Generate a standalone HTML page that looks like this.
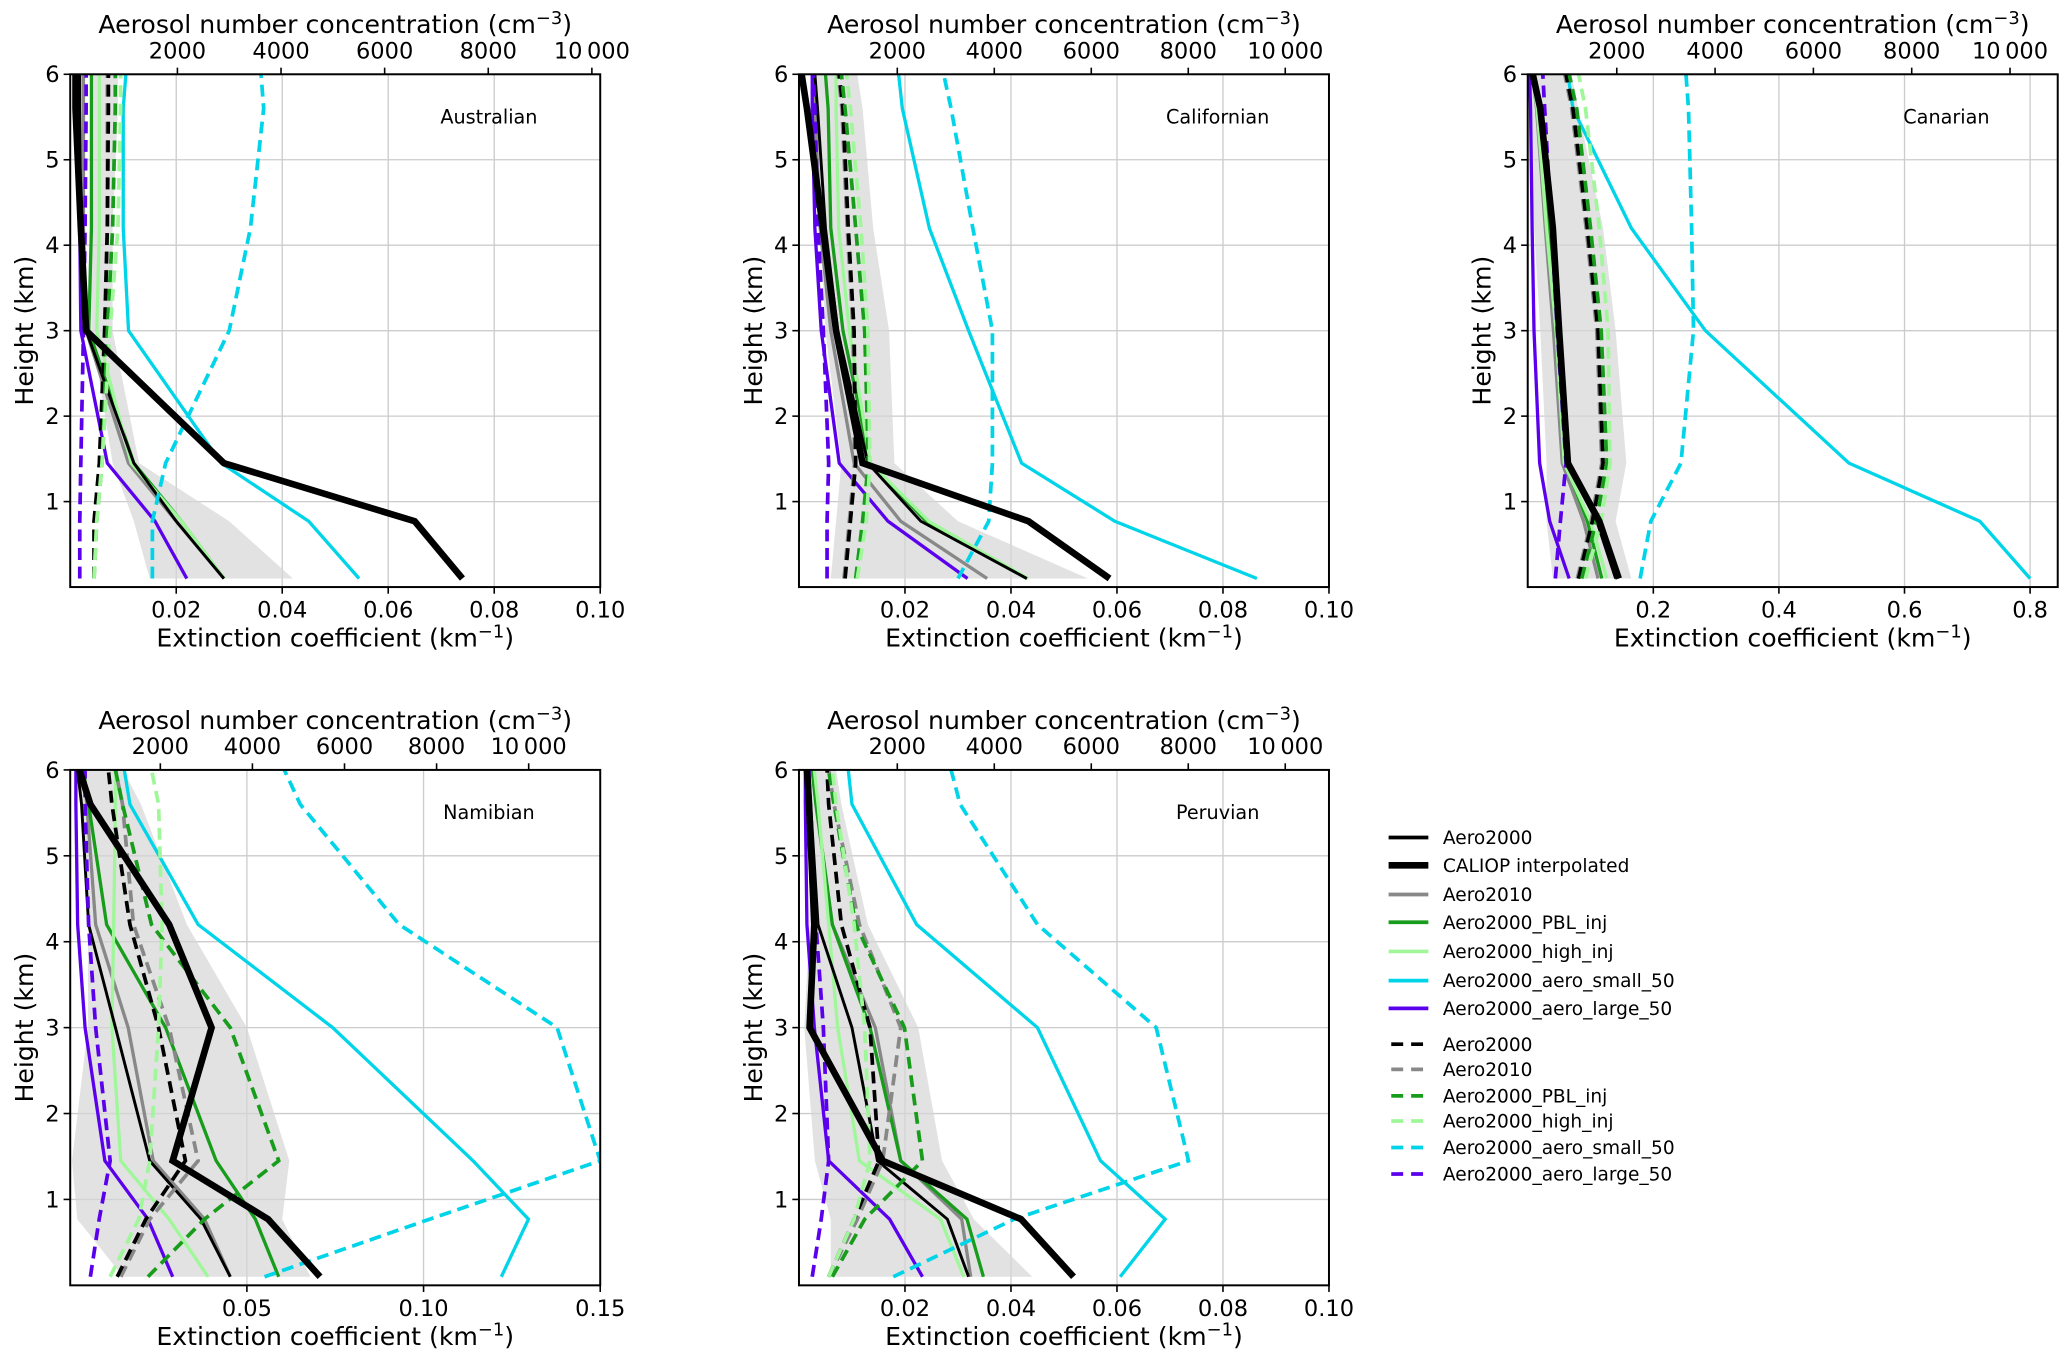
<!DOCTYPE html>
<html><head><meta charset="utf-8"><style>
html,body{margin:0;padding:0;background:#fff;}
svg{display:block;font-family:"DejaVu Sans","Liberation Sans",sans-serif;}
</style></head><body>
<svg id="fig" xmlns="http://www.w3.org/2000/svg" width="2067" height="1353" viewBox="0 0 1560 1021"></svg>
<script>
const heights = [0.1, 0.77, 1.45, 3, 4.2, 5.6, 6];
const yTicks = [1, 2, 3, 4, 5, 6];
const topTicks = [2000, 4000, 6000, 8000, 10000];
const topTickLabels = ["2000", "4000", "6000", "8000", "10\u2009000"];
const panelNames = ["Australian", "Californian", "Canarian", "Namibian", "Peruvian"];
const xTicksA = [0.02, 0.04, 0.06, 0.08, 0.10];
const xTickLabelsA = ["0.02", "0.04", "0.06", "0.08", "0.10"];
const xTicksC = [0.2, 0.4, 0.6, 0.8];
const xTickLabelsC = ["0.2", "0.4", "0.6", "0.8"];
const xTicksN = [0.05, 0.10, 0.15];
const xTickLabelsN = ["0.05", "0.10", "0.15"];

// Australian
const aus_a2000 = [0.029, 0.02, 0.012, 0.003, 0.002, 0.0018, 0.0018];
const aus_caliop = [0.074, 0.065, 0.029, 0.003, 0.002, 0.001, 0.001];
const aus_a2010 = [0.029, 0.02, 0.011, 0.003, 0.0025, 0.0025, 0.0025];
const aus_pbl = [0.029, 0.021, 0.012, 0.0035, 0.004, 0.004, 0.004];
const aus_high = [0.029, 0.021, 0.0115, 0.005, 0.0055, 0.0055, 0.0055];
const aus_small = [0.0545, 0.045, 0.0285, 0.011, 0.010, 0.010, 0.0105];
const aus_large = [0.022, 0.016, 0.007, 0.002, 0.0018, 0.0012, 0.001];
const aus_d2000 = [0.0045, 0.0045, 0.0055, 0.0065, 0.007, 0.0072, 0.0072];
const aus_d2010 = [0.0045, 0.0045, 0.0055, 0.0065, 0.007, 0.007, 0.007];
const aus_dpbl = [0.0045, 0.005, 0.006, 0.007, 0.008, 0.0085, 0.0085];
const aus_dhigh = [0.0045, 0.005, 0.006, 0.0075, 0.009, 0.0095, 0.0095];
const aus_dsmall = [0.0155, 0.0155, 0.018, 0.030, 0.034, 0.0365, 0.036];
const aus_dlarge = [0.0018, 0.0018, 0.002, 0.0025, 0.0028, 0.003, 0.003];
const aus_bandLo = [0.015, 0.012, 0.008, 0.004, 0.004, 0.004, 0.004];
const aus_bandHi = [0.042, 0.03, 0.013, 0.008, 0.008, 0.009, 0.009];

// Californian
const cal_a2000 = [0.043, 0.023, 0.013, 0.0073, 0.005, 0.0035, 0.003];
const cal_caliop = [0.0586, 0.0433, 0.012, 0.007, 0.0045, 0.0015, 0.0005];
const cal_a2010 = [0.0355, 0.0192, 0.0104, 0.006, 0.004, 0.003, 0.003];
const cal_pbl = [0.043, 0.024, 0.0135, 0.0083, 0.006, 0.0055, 0.005];
const cal_high = [0.0432, 0.0245, 0.0135, 0.0095, 0.0075, 0.007, 0.007];
const cal_small = [0.0864, 0.0596, 0.042, 0.032, 0.0246, 0.0195, 0.0188];
const cal_large = [0.0318, 0.0168, 0.0076, 0.0042, 0.003, 0.0025, 0.0025];
const cal_d2000 = [0.0087, 0.0097, 0.0107, 0.0104, 0.0093, 0.0083, 0.0076];
const cal_d2010 = [0.0085, 0.0095, 0.0105, 0.0102, 0.0091, 0.0081, 0.0074];
const cal_dpbl = [0.0107, 0.012, 0.0131, 0.0124, 0.0107, 0.0087, 0.008];
const cal_dhigh = [0.011, 0.0127, 0.0134, 0.013, 0.0117, 0.0097, 0.009];
const cal_dsmall = [0.030, 0.0358, 0.0365, 0.0365, 0.0328, 0.0287, 0.0273];
const cal_dlarge = [0.0053, 0.0053, 0.0056, 0.0046, 0.0036, 0.003, 0.0027];
const cal_bandLo = [0.006, 0.007, 0.008, 0.005, 0.004, 0.003, 0.003];
const cal_bandHi = [0.0545, 0.03, 0.018, 0.017, 0.014, 0.012, 0.011];

// Canarian
const can_a2000 = [0.14, 0.11, 0.062, 0.05, 0.038, 0.019, 0.008];
const can_caliop = [0.145, 0.114, 0.064, 0.050, 0.040, 0.02, 0.008];
const can_a2010 = [0.112, 0.089, 0.055, 0.041, 0.028, 0.014, 0.008];
const can_pbl = [0.118, 0.095, 0.06, 0.045, 0.032, 0.016, 0.008];
const can_high = [0.126, 0.1, 0.058, 0.045, 0.03, 0.015, 0.008];
const can_small = [0.8, 0.72, 0.5115, 0.283, 0.165, 0.072, 0.064];
const can_large = [0.066, 0.035, 0.019, 0.010, 0.007, 0.0045, 0.003];
const can_d2000 = [0.081, 0.103, 0.12, 0.112, 0.095, 0.072, 0.061];
const can_d2010 = [0.079, 0.101, 0.118, 0.11, 0.093, 0.07, 0.059];
const can_dpbl = [0.086, 0.109, 0.126, 0.117, 0.1, 0.078, 0.066];
const can_dhigh = [0.092, 0.117, 0.131, 0.128, 0.114, 0.092, 0.081];
const can_dsmall = [0.179, 0.196, 0.244, 0.264, 0.261, 0.256, 0.252];
const can_dlarge = [0.044, 0.052, 0.061, 0.047, 0.038, 0.027, 0.024];
const can_bandLo = [0.04, 0.03, 0.03, 0.02, 0.01, 0.005, 0.005];
const can_bandHi = [0.165, 0.14, 0.157, 0.14, 0.12, 0.08, 0.07];

// Namibian
const nam_a2000 = [0.0453, 0.037, 0.0225, 0.0128, 0.0052, 0.0032, 0.0021];
const nam_caliop = [0.0707, 0.056, 0.029, 0.040, 0.028, 0.0057, 0.0026];
const nam_a2010 = [0.0453, 0.038, 0.0235, 0.0164, 0.0072, 0.0047, 0.0037];
const nam_pbl = [0.059, 0.0524, 0.0413, 0.027, 0.0103, 0.0052, 0.0037];
const nam_high = [0.039, 0.028, 0.0143, 0.0118, 0.0123, 0.0128, 0.0128];
const nam_small = [0.122, 0.1297, 0.114, 0.0743, 0.0362, 0.0169, 0.0153];
const nam_large = [0.029, 0.022, 0.0098, 0.0042, 0.0021, 0.0016, 0.0016];
const nam_d2000 = [0.0133, 0.0214, 0.0326, 0.025, 0.0169, 0.0118, 0.0108];
const nam_d2010 = [0.0143, 0.0225, 0.0362, 0.028, 0.0179, 0.0148, 0.0128];
const nam_dpbl = [0.022, 0.038, 0.059, 0.0453, 0.023, 0.0148, 0.0128];
const nam_dhigh = [0.0113, 0.0194, 0.0225, 0.025, 0.026, 0.025, 0.023];
const nam_dsmall = [0.055, 0.1017, 0.15, 0.1378, 0.0931, 0.0651, 0.0606];
const nam_dlarge = [0.0057, 0.0082, 0.0113, 0.0072, 0.0052, 0.0042, 0.0042];
const nam_bandLo = [0.015, 0.002, 0.0005, 0.005, 0.005, 0.003, 0.003];
const nam_bandHi = [0.068, 0.06, 0.062, 0.05, 0.033, 0.02, 0.015];

// Peruvian
const per_a2000 = [0.032, 0.028, 0.0148, 0.010, 0.0036, 0.0022, 0.0019];
const per_caliop = [0.0518, 0.0419, 0.0158, 0.002, 0.0029, 0.0019, 0.0015];
const per_a2010 = [0.0324, 0.0307, 0.0192, 0.0144, 0.0063, 0.0032, 0.0025];
const per_pbl = [0.0348, 0.0317, 0.0192, 0.0134, 0.0063, 0.0032, 0.0025];
const per_high = [0.0311, 0.0267, 0.0114, 0.0073, 0.0056, 0.0036, 0.0029];
const per_small = [0.0606, 0.0691, 0.0569, 0.045, 0.0222, 0.010, 0.0093];
const per_large = [0.0233, 0.0171, 0.0056, 0.0029, 0.0015, 0.0012, 0.0012];
const per_d2000 = [0.0056, 0.0104, 0.0151, 0.0134, 0.008, 0.0056, 0.0053];
const per_d2010 = [0.0056, 0.011, 0.0158, 0.0192, 0.0114, 0.0066, 0.0056];
const per_dpbl = [0.0063, 0.0124, 0.0233, 0.0199, 0.0107, 0.0066, 0.0056];
const per_dhigh = [0.0056, 0.0104, 0.0134, 0.0124, 0.0104, 0.007, 0.0063];
const per_dsmall = [0.0178, 0.0406, 0.0735, 0.0674, 0.045, 0.0304, 0.0287];
const per_dlarge = [0.0025, 0.0042, 0.0056, 0.0046, 0.0032, 0.0019, 0.0019];
const per_bandLo = [0.006, 0.006, 0.003, 0.001, 0.002, 0.002, 0.002];
const per_bandHi = [0.044, 0.033, 0.027, 0.0225, 0.013, 0.008, 0.007];

const NS = "http://www.w3.org/2000/svg";
const svg = document.getElementById("fig");
function mk(tag, attrs, parent) {
  const e = document.createElementNS(NS, tag);
  for (const k in attrs) e.setAttribute(k, attrs[k]);
  (parent || svg).appendChild(e);
  return e;
}
const styles = {
  a2000: {c: "#000000", w: 2.2, d: null, label: "Aero2000"},
  caliop: {c: "#000000", w: 5, d: null, label: "CALIOP interpolated"},
  a2010: {c: "#888888", w: 2.5, d: null, label: "Aero2010"},
  pbl: {c: "#179c1b", w: 2.5, d: null, label: "Aero2000_PBL_inj"},
  high: {c: "#a0f79a", w: 2.5, d: null, label: "Aero2000_high_inj"},
  small: {c: "#00d4e8", w: 2.5, d: null, label: "Aero2000_aero_small_50"},
  large: {c: "#5a00ec", w: 2.5, d: null, label: "Aero2000_aero_large_50"},
  d2000: {c: "#000000", w: 2.8, d: "9 5", label: "Aero2000"},
  d2010: {c: "#888888", w: 2.8, d: "9 5", label: "Aero2010"},
  dpbl: {c: "#179c1b", w: 2.8, d: "9 5", label: "Aero2000_PBL_inj"},
  dhigh: {c: "#a0f79a", w: 2.8, d: "9 5", label: "Aero2000_high_inj"},
  dsmall: {c: "#00d4e8", w: 2.8, d: "9 5", label: "Aero2000_aero_small_50"},
  dlarge: {c: "#5a00ec", w: 2.8, d: "9 5", label: "Aero2000_aero_large_50"}
};
const panels = [
  {name: panelNames[0], L: 53, R: 453, T: 56, B: 443, xmax: 0.10, xt: xTicksA, xtl: xTickLabelsA, t0: 55.7, tk: 39.1,
   s: {a2000: aus_a2000, caliop: aus_caliop, a2010: aus_a2010, pbl: aus_pbl, high: aus_high, small: aus_small, large: aus_large, d2000: aus_d2000, d2010: aus_d2010, dpbl: aus_dpbl, dhigh: aus_dhigh, dsmall: aus_dsmall, dlarge: aus_dlarge}, lo: aus_bandLo, hi: aus_bandHi},
  {name: panelNames[1], L: 603, R: 1003, T: 56, B: 443, xmax: 0.10, xt: xTicksA, xtl: xTickLabelsA, t0: 604, tk: 36.6,
   s: {a2000: cal_a2000, caliop: cal_caliop, a2010: cal_a2010, pbl: cal_pbl, high: cal_high, small: cal_small, large: cal_large, d2000: cal_d2000, d2010: cal_d2010, dpbl: cal_dpbl, dhigh: cal_dhigh, dsmall: cal_dsmall, dlarge: cal_dlarge}, lo: cal_bandLo, hi: cal_bandHi},
  {name: panelNames[2], L: 1153, R: 1553, T: 56, B: 443, xmax: 0.844, xt: xTicksC, xtl: xTickLabelsC, t0: 1146, tk: 37.1,
   s: {a2000: can_a2000, caliop: can_caliop, a2010: can_a2010, pbl: can_pbl, high: can_high, small: can_small, large: can_large, d2000: can_d2000, d2010: can_d2010, dpbl: can_dpbl, dhigh: can_dhigh, dsmall: can_dsmall, dlarge: can_dlarge}, lo: can_bandLo, hi: can_bandHi},
  {name: panelNames[3], L: 53, R: 453, T: 581, B: 970, xmax: 0.15, xt: xTicksN, xtl: xTickLabelsN, t0: 51.5, tk: 34.75,
   s: {a2000: nam_a2000, caliop: nam_caliop, a2010: nam_a2010, pbl: nam_pbl, high: nam_high, small: nam_small, large: nam_large, d2000: nam_d2000, d2010: nam_d2010, dpbl: nam_dpbl, dhigh: nam_dhigh, dsmall: nam_dsmall, dlarge: nam_dlarge}, lo: nam_bandLo, hi: nam_bandHi},
  {name: panelNames[4], L: 603, R: 1003, T: 581, B: 970, xmax: 0.10, xt: xTicksA, xtl: xTickLabelsA, t0: 604, tk: 36.6,
   s: {a2000: per_a2000, caliop: per_caliop, a2010: per_a2010, pbl: per_pbl, high: per_high, small: per_small, large: per_large, d2000: per_d2000, d2010: per_d2010, dpbl: per_dpbl, dhigh: per_dhigh, dsmall: per_dsmall, dlarge: per_dlarge}, lo: per_bandLo, hi: per_bandHi}
];
const drawOrder = ["a2010", "pbl", "high", "small", "large", "a2000", "d2010", "d2000", "dpbl", "dhigh", "dsmall", "dlarge", "caliop"];

panels.forEach(p => {
  const slug = p.name.toLowerCase();
  const g = mk("g", {});
  
  
  const xs = v => p.L + v / p.xmax * (p.R - p.L);
  const ys = h => p.B - h / 6 * (p.B - p.T);
  const clipId = "clip-" + slug;
  const cp = mk("clipPath", {id: clipId}, g);
  mk("rect", {x: p.L, y: p.T, width: p.R - p.L, height: p.B - p.T}, cp);
  p.xt.forEach(v => {
    const l = mk("line", {x1: xs(v), x2: xs(v), y1: p.T, y2: p.B, stroke: "#cccccc", "stroke-width": 1}, g);
    
    
  });
  yTicks.forEach(v => {
    const l = mk("line", {x1: p.L, x2: p.R, y1: ys(v), y2: ys(v), stroke: "#cccccc", "stroke-width": 1}, g);
    
    
  });
  const data = mk("g", {"clip-path": "url(#" + clipId + ")"}, g);
  let pts = [];
  heights.forEach((h, i) => pts.push(xs(p.lo[i]) + "," + ys(h)));
  for (let i = heights.length - 1; i >= 0; i--) pts.push(xs(p.hi[i]) + "," + ys(heights[i]));
  const band = mk("polygon", {points: pts.join(" "), fill: "#d6d6d6", "fill-opacity": 0.7}, data);
  
  
  drawOrder.forEach(k => {
    const st = styles[k];
    const vals = p.s[k];
    const lp = vals.map((v, i) => xs(v) + "," + ys(heights[i])).join(" ");
    const a = {points: lp, fill: "none", stroke: st.c, "stroke-width": st.w, "stroke-linejoin": "miter"};
    if (st.d) a["stroke-dasharray"] = st.d;
    const pl = mk("polyline", a, data);
    
    
  });
  const fr = mk("rect", {x: p.L, y: p.T, width: p.R - p.L, height: p.B - p.T, fill: "none", stroke: "#000", "stroke-width": 1.5}, g);
  
  
  p.xt.forEach((v, i) => {
    mk("line", {x1: xs(v), x2: xs(v), y1: p.B, y2: p.B + 5, stroke: "#000", "stroke-width": 1.2}, g);
    const t = mk("text", {x: xs(v), y: p.B + 23, "text-anchor": "middle", "font-size": 17}, g);
    t.textContent = p.xtl[i];
    
    
  });
  yTicks.forEach(v => {
    mk("line", {x1: p.L - 5, x2: p.L, y1: ys(v), y2: ys(v), stroke: "#000", "stroke-width": 1.2}, g);
    const t = mk("text", {x: p.L - 8, y: ys(v) + 6, "text-anchor": "end", "font-size": 17}, g);
    t.textContent = String(v);
    
    
  });
  topTicks.forEach((v, i) => {
    const x = p.t0 + v / 1000 * p.tk;
    mk("line", {x1: x, x2: x, y1: p.T - 5, y2: p.T, stroke: "#000", "stroke-width": 1.2}, g);
    const t = mk("text", {x: x, y: p.T - 12, "text-anchor": "middle", "font-size": 17}, g);
    t.textContent = topTickLabels[i];
    
    
  });
  const cx = (p.L + p.R) / 2;
  const tt = mk("text", {x: cx, y: p.T - 31, "text-anchor": "middle", "font-size": 19}, g);
  tt.innerHTML = 'Aerosol number concentration (cm<tspan dy="-7" font-size="13.5">\u22123</tspan><tspan dy="7">)</tspan>';
  
  
  const xt = mk("text", {x: cx, y: p.B + 45, "text-anchor": "middle", "font-size": 19}, g);
  xt.innerHTML = 'Extinction coefficient (km<tspan dy="-7" font-size="13.5">\u22121</tspan><tspan dy="7">)</tspan>';
  
  
  const yt = mk("text", {x: 0, y: 0, "text-anchor": "middle", "font-size": 19, transform: "translate(" + (p.L - 28) + "," + ((p.T + p.B) / 2) + ") rotate(-90)"}, g);
  yt.textContent = "Height (km)";
  
  
  const nt = mk("text", {x: p.L + 316, y: p.T + 37, "text-anchor": "middle", "font-size": 14.5}, g);
  nt.textContent = p.name;
  
  
});

const legendKeys = ["a2000", "caliop", "a2010", "pbl", "high", "small", "large", "d2000", "d2010", "dpbl", "dhigh", "dsmall", "dlarge"];
const legendY = [632, 653, 675, 696, 718, 740, 761, 788, 807, 827, 846, 866, 886];
const lg = mk("g", {});


legendKeys.forEach((k, i) => {
  const st = styles[k];
  const e = mk("g", {}, lg);
  
  
  const a = {x1: 1048, x2: 1078, y1: legendY[i], y2: legendY[i], stroke: st.c, "stroke-width": k === "caliop" ? 5 : 2.8};
  if (st.d) { a["stroke-dasharray"] = "9 6"; a.x1 = 1050; a.x2 = 1077; }
  mk("line", a, e);
  const t = mk("text", {x: 1089, y: legendY[i] + 5, "font-size": 14}, e);
  t.textContent = st.label;
});
</script>
</body></html>
